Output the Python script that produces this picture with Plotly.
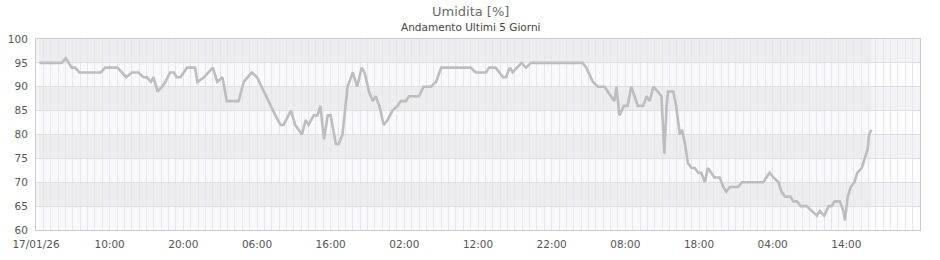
import pandas as pd
import plotly.graph_objects as go

# ---- data ----
start = "2026-01-17 00:00"
hours = [0.45, 3.5, 4.04, 4.86, 5.3, 5.9, 8.8, 9.4, 11.06, 12.24, 13.0, 13.9, 14.6, 15.06, 15.6, 15.96,
         16.5, 17.1, 17.55, 18.2, 18.7, 19.1, 19.6, 20.5, 21.6, 21.9, 22.8, 23.4, 24.0, 24.6, 25.3, 25.9,
         27.5, 28.2, 28.7, 29.3, 30.0, 30.9, 31.8, 32.5, 33.2, 33.6, 34.6, 35.2, 36.1, 36.6, 37.0, 37.7,
         38.2, 38.6, 39.1, 39.6, 40.0, 40.7, 41.1, 41.6, 42.3, 43.0, 43.6, 44.2, 44.6, 45.2, 45.7, 46.1,
         46.6, 47.2, 47.7, 48.4, 49.1, 49.5, 50.2, 50.65, 52.0, 52.6, 53.6, 54.3, 55.0, 59.0, 59.7, 61.1,
         61.5, 62.4, 63.4, 63.8, 64.3, 64.7, 65.9, 66.5, 67.2, 74.2, 74.7, 75.6, 76.3, 77.2, 77.6, 78.1,
         78.5, 78.8, 79.2, 79.8, 80.3, 80.8, 81.3, 81.7, 82.4, 82.9, 83.3, 83.8, 84.4, 84.9, 85.3, 85.6,
         85.8, 86.5, 86.9, 87.4, 87.7, 88.1, 88.5, 89.0, 89.4, 89.9, 90.3, 90.8, 91.2, 91.7, 92.1, 92.8,
         93.3, 93.7, 94.2, 95.3, 95.8, 98.7, 99.2, 99.6, 100.1, 100.8, 101.2, 101.7, 102.4, 102.8, 103.3,
         103.8, 104.6, 105.3, 106.0, 106.4, 107.0, 107.6, 108.0, 108.4, 109.1, 109.6, 109.8, 110.2, 110.6,
         111.1, 111.5, 112.1, 112.4, 112.9, 113.1, 113.4]
humidity = [95, 95, 96, 94, 94, 93, 93, 94, 94, 92, 93, 93, 92, 92, 91, 92,
            89, 90, 91, 93, 93, 92, 92, 94, 94, 91, 92, 93, 94, 91, 92, 87,
            87, 91, 92, 93, 92, 89, 86, 84, 82, 82, 85, 82, 80, 83, 82, 84,
            84, 86, 79, 84, 84, 78, 78, 80, 90, 93, 90, 94, 93, 89, 87, 88,
            86, 82, 83, 85, 86, 87, 87, 88, 88, 90, 90, 91, 94, 94, 93, 93,
            94, 94, 92, 92, 94, 93, 95, 94, 95, 95, 94, 91, 90, 90, 89, 88,
            87, 90, 84, 86, 86, 90, 88, 86, 86, 88, 87, 90, 89, 88, 76, 86,
            89, 89, 86, 80, 81, 78, 74, 73, 73, 72, 72, 70, 73, 72, 71, 71,
            69, 68, 69, 69, 70, 70, 71, 72, 71, 70, 68, 67, 67, 66, 66,
            65, 65, 64, 63, 64, 63, 65, 65, 66, 66, 64, 62, 67, 69,
            70, 72, 73, 74.5, 77, 80, 81]

tick_hours = [0, 10, 20, 30, 40, 50, 60, 70, 80, 90, 100, 110]
tick_labels = ["17/01/26", "10:00", "20:00", "06:00", "16:00", "02:00",
               "12:00", "22:00", "08:00", "18:00", "04:00", "14:00"]
y_ticks = [60, 65, 70, 75, 80, 85, 90, 95, 100]
title_text = "Umidita [%]"
subtitle_text = "Andamento Ultimi 5 Giorni"

t0 = pd.Timestamp(start)
times = [t0 + pd.Timedelta(hours=h) for h in hours]
tickvals = [t0 + pd.Timedelta(hours=h) for h in tick_hours]
x_end = t0 + pd.Timedelta(days=5)

FONT = "DejaVu Sans"

fig = go.Figure()
fig.add_trace(go.Scatter(x=times, y=humidity, mode="lines",
                         line=dict(color="#bdbdbd", width=2.6),
                         hoverinfo="x+y", showlegend=False))

shapes = []
# alternating horizontal bands
for i, lo in enumerate(y_ticks[:-1]):
    col = "#ffffff" if i % 2 == 0 else "#f3f3f3"
    shapes.append(dict(type="rect", xref="paper", x0=0, x1=1, yref="y", y0=lo, y1=lo + 5,
                       fillcolor=col, line=dict(width=0), layer="below"))
# data range overlay
shapes.append(dict(type="rect", xref="x", x0=times[0], x1=times[-1], yref="paper", y0=0, y1=1,
                   fillcolor="rgba(0,0,0,0.025)", line=dict(width=0), layer="below"))

fig.update_layout(
    width=940, height=260,
    margin=dict(l=36, r=20, t=39, b=30, autoexpand=False),
    paper_bgcolor="#ffffff", plot_bgcolor="#ffffff",
    font=dict(family=FONT, size=10.5, color="#555555"),
    shapes=shapes,
    annotations=[
        dict(text=title_text, xref="paper", yref="paper", x=0.491, y=1.142,
             xanchor="center", yanchor="middle", showarrow=False,
             font=dict(family=FONT, size=13, color="#6a6a6a")),
        dict(text=subtitle_text, xref="paper", yref="paper", x=0.491, y=1.063,
             xanchor="center", yanchor="middle", showarrow=False,
             font=dict(family=FONT, size=10.5, color="#444444")),
    ],
    xaxis=dict(type="date", range=[t0, x_end], tickvals=tickvals, ticktext=tick_labels,
               automargin=False,
               showgrid=True, gridcolor="#e6e4f8", gridwidth=1,
               minor=dict(dtick=3600000, tick0=t0, showgrid=True, gridcolor="#e6e4f8", gridwidth=1),
               showline=True, linecolor="#cccccc", linewidth=1, mirror=True,
               ticks="", ticklabelstandoff=4, zeroline=False,
               tickfont=dict(size=10.5, color="#555555")),
    yaxis=dict(range=[60, 100], tickvals=y_ticks, showgrid=True, gridcolor="#dedede",
               automargin=False,
               gridwidth=1, showline=True, linecolor="#cccccc", linewidth=1, mirror=True,
               ticks="", ticklabelstandoff=5, zeroline=False,
               tickfont=dict(size=10.5, color="#555555")),
)

fig.write_html("out.html")
